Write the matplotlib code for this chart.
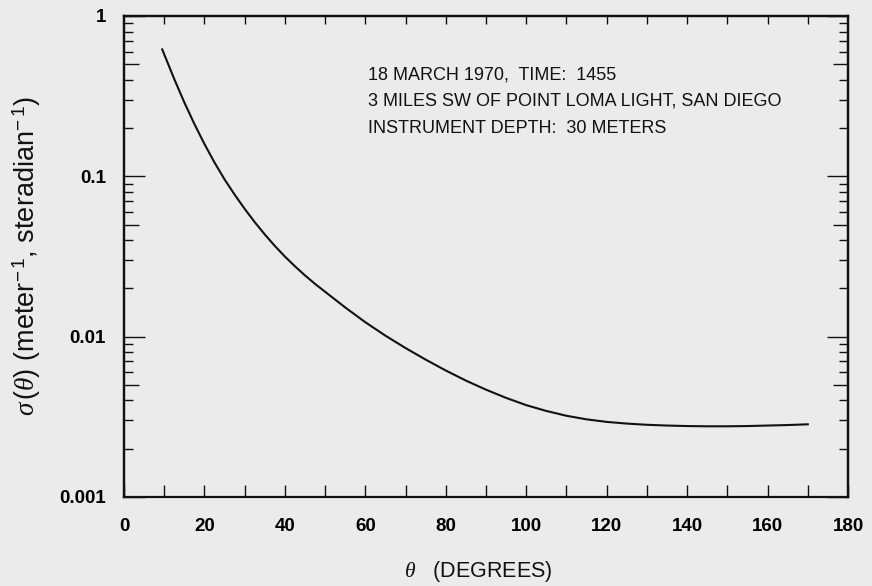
"""
Volume scattering function vs scattering angle (log scale)
"""
import matplotlib
matplotlib.use('Agg')
import matplotlib.pyplot as plt
from matplotlib.ticker import FixedLocator, NullFormatter, FixedFormatter, NullLocator

plt.rcParams['font.family'] = ['Liberation Sans', 'DejaVu Sans']
plt.rcParams['mathtext.fontset'] = 'custom'
plt.rcParams['mathtext.rm'] = 'Liberation Sans'
plt.rcParams['mathtext.it'] = 'Liberation Serif:italic'

# Curve
theta = [9.5, 12.5, 15, 17.5, 20, 22.5, 25, 27.5, 30, 32.5, 35, 37.5, 40,
         42.5, 45, 47.5, 50, 55, 60, 65, 70, 75, 80, 85, 90, 95, 100, 105,
         110, 115, 120, 125, 130, 135, 140, 145, 150, 155, 160, 165, 170]
sigma = [0.619, 0.404, 0.289, 0.212, 0.159, 0.122, 0.0957, 0.0769, 0.0627,
         0.0518, 0.0434, 0.0368, 0.0316, 0.02748, 0.0241, 0.02133, 0.01905,
         0.01521, 0.0123, 0.01014, 0.00849, 0.00719, 0.00615, 0.00532,
         0.00467, 0.00415, 0.00374, 0.00344, 0.00321, 0.00305, 0.00294,
         0.00287, 0.00282, 0.00279, 0.00277, 0.00276, 0.00276, 0.00277,
         0.00279, 0.00281, 0.00284]

x_labels = ['0', '20', '40', '60', '80', '100', '120', '140', '160', '180']
y_labels = ['0.001', '0.01', '0.1', '1']
notes = ['18 MARCH 1970,  TIME:  1455',
         '3 MILES SW OF POINT LOMA LIGHT, SAN DIEGO',
         'INSTRUMENT DEPTH:  30 METERS']

bg = '#ebebeb'
ink = '#111111'
fig = plt.figure(figsize=(8.72, 5.86), dpi=100, facecolor=bg)
ax = fig.add_axes([0.1422, 0.1519, 0.8303, 0.8208], facecolor=bg)

ax.plot(theta, sigma, color=ink, lw=1.5)

ax.set_yscale('log')
ax.set_xlim(0, 180)
ax.set_ylim(0.001, 1)

for s in ax.spines.values():
    s.set_linewidth(1.6)
    s.set_color(ink)

# x ticks: labels every 20, marks every 10 on the bottom
ax.xaxis.set_major_locator(FixedLocator(range(0, 181, 20)))
ax.xaxis.set_major_formatter(FixedFormatter(x_labels))
ax.xaxis.set_minor_locator(FixedLocator(range(10, 180, 20)))
ax.tick_params(axis='x', which='both', direction='in', length=8.6, width=1,
               color=ink, top=False, bottom=True, pad=15, labelsize=13.5)

# y ticks: decades long, 2-9 short, both sides
ax.yaxis.set_major_locator(FixedLocator([0.001, 0.01, 0.1, 1]))
ax.yaxis.set_major_formatter(FixedFormatter(y_labels))
minors = [m * 10.0 ** e for e in (-3, -2, -1) for m in (2, 3, 4, 6, 7, 8, 9)]
ax.yaxis.set_minor_locator(FixedLocator(minors))
ax.yaxis.set_minor_formatter(NullFormatter())
ax.tick_params(axis='y', which='major', direction='in', length=15, width=1,
               color=ink, left=True, right=True, pad=13, labelsize=13.5)
ax.tick_params(axis='y', which='minor', direction='in', length=6.5, width=1,
               color=ink, left=True, right=True)
for lab in ax.get_xticklabels() + ax.get_yticklabels():
    lab.set_fontweight('bold')

# medium ticks at the 5s on both sides
for side in ('left', 'right'):
    sec = ax.secondary_yaxis(side)
    sec.yaxis.set_major_locator(FixedLocator([0.005, 0.05, 0.5]))
    sec.yaxis.set_major_formatter(NullFormatter())
    sec.yaxis.set_minor_locator(NullLocator())
    sec.tick_params(axis='y', direction='in', length=10.5, width=1, color=ink)
    sec.spines[side].set_linewidth(1.6)

# top ticks every 10, a bit shorter
top = ax.secondary_xaxis('top')
top.xaxis.set_major_locator(FixedLocator(range(10, 180, 10)))
top.xaxis.set_major_formatter(NullFormatter())
top.xaxis.set_minor_locator(NullLocator())
top.tick_params(axis='x', direction='in', length=6, width=1, color=ink)
top.spines['top'].set_linewidth(1.6)

ax.set_xlabel(r'$\theta$   (DEGREES)', fontsize=15.5, color=ink)
ax.xaxis.set_label_coords(0.489, -0.129)
ax.set_ylabel(r'$\sigma\,(\theta)$ (meter$^{-\,1}$, steradian$^{-\,1}$)',
              fontsize=19.5, color=ink)
ax.yaxis.set_label_coords(-0.112, 0.5)

for i, line in enumerate(notes):
    fig.text(368 / 872, 1 - (79 + 27 * i) / 586, line, fontsize=13,
             va='baseline', ha='left', color=ink)

fig.savefig('out.png', dpi=100, facecolor=bg)
